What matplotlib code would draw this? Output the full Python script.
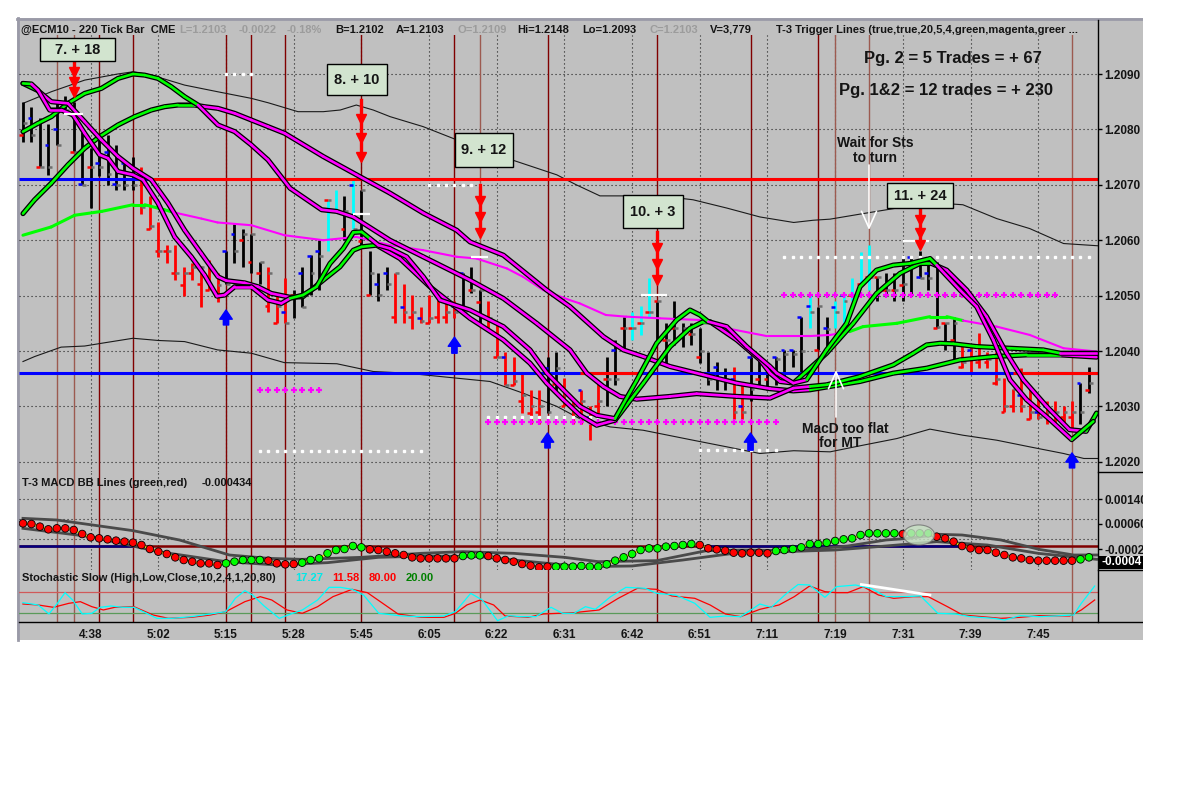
"""Recreate the @ECM10 220-tick chart: price with T-3 trigger lines, MACD dots, slow stochastic."""

import matplotlib

matplotlib.use("Agg")
import matplotlib.pyplot as plt
import numpy as np
from matplotlib.collections import LineCollection
from matplotlib.lines import Line2D
from matplotlib.patches import Ellipse, Rectangle
from matplotlib.transforms import Affine2D

plt.rcParams["font.family"] = ["Liberation Sans", "DejaVu Sans"]
plt.rcParams["font.weight"] = "bold"

# ---------------------------------------------------------------- data
time_ticks = [8, 16, 24, 32, 40, 48, 56, 64, 72, 80, 88, 96, 104, 112, 120]
time_labels = ["4:38", "5:02", "5:15", "5:28", "5:45", "6:05", "6:22", "6:31",
               "6:42", "6:51", "7:11", "7:19", "7:31", "7:39", "7:45"]
price_ticks = [1.2020, 1.2030, 1.2040, 1.2050, 1.2060, 1.2070, 1.2080, 1.2090]

bar_high = [
    1.20850, 1.20841, 1.20820, 1.20810, 1.20853, 1.20860, 1.20850, 1.20796, 1.20766, 1.20781,
    1.20790, 1.20772, 1.20739, 1.20750, 1.20732, 1.20679, 1.20632, 1.20591, 1.20591, 1.20551,
    1.20559, 1.20553, 1.20564, 1.20540, 1.20581, 1.20629, 1.20620, 1.20611, 1.20561, 1.20551,
    1.20499, 1.20531, 1.20511, 1.20552, 1.20573, 1.20600, 1.20673, 1.20691, 1.20680, 1.20709,
    1.20691, 1.20581, 1.20541, 1.20551, 1.20541, 1.20521, 1.20501, 1.20480, 1.20501, 1.20492,
    1.20491, 1.20491, 1.20541, 1.20551, 1.20510, 1.20491, 1.20450, 1.20399, 1.20390, 1.20360,
    1.20330, 1.20330, 1.20390, 1.20399, 1.20351, 1.20312, 1.20330, 1.20300, 1.20342, 1.20390,
    1.20420, 1.20461, 1.20471, 1.20481, 1.20531, 1.20491, 1.20450, 1.20491, 1.20450, 1.20450,
    1.20441, 1.20399, 1.20381, 1.20369, 1.20371, 1.20339, 1.20390, 1.20390, 1.20371, 1.20390,
    1.20401, 1.20401, 1.20462, 1.20501, 1.20480, 1.20461, 1.20491, 1.20504, 1.20531, 1.20579,
    1.20591, 1.20533, 1.20540, 1.20540, 1.20569, 1.20570, 1.20581, 1.20558, 1.20561, 1.20450,
    1.20461, 1.20411, 1.20411, 1.20432, 1.20399, 1.20399, 1.20351, 1.20331, 1.20369, 1.20331,
    1.20319, 1.20309, 1.20309, 1.20300, 1.20309, 1.20342, 1.20371,
]
bar_low = [
    1.20778, 1.20778, 1.20732, 1.20718, 1.20771, 1.20829, 1.20760, 1.20700, 1.20658, 1.20715,
    1.20700, 1.20691, 1.20691, 1.20691, 1.20648, 1.20620, 1.20569, 1.20559, 1.20529, 1.20499,
    1.20529, 1.20479, 1.20510, 1.20489, 1.20521, 1.20559, 1.20551, 1.20540, 1.20521, 1.20471,
    1.20450, 1.20450, 1.20459, 1.20480, 1.20501, 1.20510, 1.20581, 1.20652, 1.20600, 1.20621,
    1.20588, 1.20501, 1.20491, 1.20510, 1.20450, 1.20450, 1.20439, 1.20450, 1.20450, 1.20450,
    1.20450, 1.20459, 1.20471, 1.20504, 1.20450, 1.20439, 1.20390, 1.20339, 1.20339, 1.20288,
    1.20269, 1.20269, 1.20288, 1.20324, 1.20300, 1.20269, 1.20269, 1.20239, 1.20288, 1.20300,
    1.20339, 1.20402, 1.20420, 1.20429, 1.20461, 1.20420, 1.20379, 1.20411, 1.20408, 1.20411,
    1.20379, 1.20339, 1.20330, 1.20330, 1.20278, 1.20278, 1.20309, 1.20339, 1.20330, 1.20339,
    1.20349, 1.20371, 1.20360, 1.20441, 1.20401, 1.20401, 1.20441, 1.20450, 1.20491, 1.20516,
    1.20510, 1.20491, 1.20501, 1.20491, 1.20491, 1.20501, 1.20531, 1.20510, 1.20441, 1.20401,
    1.20381, 1.20369, 1.20363, 1.20369, 1.20369, 1.20339, 1.20289, 1.20289, 1.20289, 1.20278,
    1.20278, 1.20269, 1.20269, 1.20269, 1.20259, 1.20269, 1.20324,
]
bar_open = [
    1.20790, 1.20820, 1.20732, 1.20771, 1.20800, 1.20845, 1.20760, 1.20701, 1.20732, 1.20740,
    1.20760, 1.20701, 1.20739, 1.20732, 1.20720, 1.20620, 1.20581, 1.20581, 1.20541, 1.20520,
    1.20540, 1.20521, 1.20510, 1.20500, 1.20581, 1.20612, 1.20600, 1.20561, 1.20541, 1.20481,
    1.20451, 1.20470, 1.20501, 1.20541, 1.20571, 1.20581, 1.20672, 1.20652, 1.20621, 1.20700,
    1.20598, 1.20501, 1.20521, 1.20541, 1.20462, 1.20480, 1.20462, 1.20460, 1.20450, 1.20462,
    1.20462, 1.20481, 1.20541, 1.20510, 1.20489, 1.20441, 1.20390, 1.20390, 1.20339, 1.20309,
    1.20288, 1.20290, 1.20369, 1.20340, 1.20300, 1.20300, 1.20330, 1.20281, 1.20300, 1.20349,
    1.20401, 1.20441, 1.20441, 1.20451, 1.20471, 1.20490, 1.20420, 1.20441, 1.20429, 1.20430,
    1.20390, 1.20360, 1.20371, 1.20349, 1.20349, 1.20300, 1.20390, 1.20349, 1.20350, 1.20390,
    1.20401, 1.20401, 1.20461, 1.20481, 1.20401, 1.20441, 1.20480, 1.20501, 1.20501, 1.20521,
    1.20533, 1.20533, 1.20510, 1.20510, 1.20520, 1.20570, 1.20533, 1.20540, 1.20441, 1.20450,
    1.20420, 1.20371, 1.20402, 1.20380, 1.20381, 1.20342, 1.20289, 1.20300, 1.20320, 1.20278,
    1.20290, 1.20300, 1.20290, 1.20280, 1.20280, 1.20342, 1.20330,
]
bar_close = [
    1.20811, 1.20790, 1.20732, 1.20732, 1.20771, 1.20835, 1.20760, 1.20700, 1.20732, 1.20732,
    1.20720, 1.20700, 1.20700, 1.20700, 1.20660, 1.20625, 1.20581, 1.20581, 1.20541, 1.20541,
    1.20551, 1.20551, 1.20515, 1.20520, 1.20521, 1.20581, 1.20611, 1.20611, 1.20561, 1.20541,
    1.20481, 1.20451, 1.20501, 1.20480, 1.20541, 1.20571, 1.20672, 1.20652, 1.20652, 1.20621,
    1.20691, 1.20540, 1.20501, 1.20521, 1.20541, 1.20471, 1.20470, 1.20455, 1.20460, 1.20492,
    1.20470, 1.20470, 1.20471, 1.20510, 1.20510, 1.20460, 1.20390, 1.20339, 1.20345, 1.20320,
    1.20300, 1.20300, 1.20290, 1.20369, 1.20320, 1.20290, 1.20309, 1.20270, 1.20310, 1.20349,
    1.20349, 1.20441, 1.20441, 1.20451, 1.20471, 1.20490, 1.20420, 1.20441, 1.20441, 1.20431,
    1.20400, 1.20349, 1.20349, 1.20349, 1.20290, 1.20290, 1.20331, 1.20360, 1.20360, 1.20385,
    1.20395, 1.20395, 1.20400, 1.20470, 1.20481, 1.20440, 1.20470, 1.20490, 1.20501, 1.20521,
    1.20533, 1.20533, 1.20510, 1.20510, 1.20521, 1.20560, 1.20531, 1.20531, 1.20444, 1.20451,
    1.20451, 1.20380, 1.20390, 1.20390, 1.20385, 1.20350, 1.20300, 1.20331, 1.20300, 1.20290,
    1.20280, 1.20290, 1.20290, 1.20290, 1.20290, 1.20290, 1.20342,
]
# k = black bar, r = red bar, c = cyan bar
bar_kind = "".join([
    "kkkkkkkkkkkkkk", "rrrrrrrrrr", "kkkkk", "rrr", "kkkk", "cckc", "kkkk",
    "rrrrrrrr", "kkk", "rrrrrrr", "kk", "rrrrr", "kkk", "ccc", "kkkkkkkkk", "rr",
    "kkkkkkk", "c", "kk", "ccccc", "kkkkkkkkkk", "rrrrrrrrrrrrrr", "kk",
])

# T-3 trigger lines (bar index, price) and where each one is drawn green
fast_a_x = [0, 0.99, 1.77, 3.15, 4.53, 5.91, 7.29, 9.06, 10.05, 11.23, 13.0, 14.18, 15.96, 17.93,
            19.9, 21.47, 22.93, 23.84, 25.02, 26.99, 28.96, 30.54, 31.56, 33.1, 34.7, 36.29, 37.86,
            39.05, 40.03, 41.02, 42.0, 43.38, 45.35, 47.32, 49.29, 52.84, 56.78, 59.93, 61.93,
            63.87, 65.84, 67.81, 69.98, 72.54, 74.9, 77.27, 78.84, 80.02, 81.0, 83.18, 85.54, 88.3,
            89.09, 91.06, 92.63, 94.99, 97.36, 98.94, 100.9, 102.87, 104.85, 107.21, 108.0, 110.76,
            112.73, 114.7, 116.67, 118.64, 121.4, 123.96, 126.52]
fast_a_y = [1.20883, 1.20882, 1.20871, 1.20835, 1.20835, 1.20826, 1.20793, 1.20754, 1.20748,
            1.20724, 1.20718, 1.20709, 1.20667, 1.20606, 1.20570, 1.20537, 1.20499, 1.20501,
            1.20516, 1.20516, 1.20492, 1.20486, 1.20495, 1.20501, 1.20516, 1.20558, 1.20585,
            1.20614, 1.20615, 1.20603, 1.20591, 1.20585, 1.20570, 1.20534, 1.20492, 1.20474,
            1.20444, 1.20402, 1.20360, 1.20330, 1.20300, 1.20284, 1.20278, 1.20347, 1.20414,
            1.20456, 1.20474, 1.20465, 1.20453, 1.20444, 1.20408, 1.20372, 1.20360, 1.20342,
            1.20348, 1.20402, 1.20450, 1.20516, 1.20546, 1.20555, 1.20558, 1.20567, 1.20555,
            1.20510, 1.20480, 1.20420, 1.20348, 1.20312, 1.20276, 1.20240, 1.20273]
fast_a_green = [(0, 1.0), (31.5, 41.0), (70.0, 81.0), (92.6, 108.0), (124.0, 128)]

fast_b_x = [0, 1.77, 3.35, 5.32, 7.29, 9.26, 11.23, 13.0, 15.17, 17.14, 19.11, 21.08, 23.05,
            24.03, 26.2, 27.78, 29.35, 31.56, 33.1, 35.5, 37.47, 39.05, 40.03, 41.8, 44.55, 48.1,
            52.84, 56.78, 59.93, 61.9, 63.87, 65.84, 67.81, 69.98, 73.33, 76.5, 78.84, 80.42, 81.2,
            84.36, 87.12, 88.3, 89.48, 91.06, 94.99, 98.14, 100.9, 103.66, 106.03, 107.4, 109.18,
            111.55, 113.9, 116.27, 118.24, 121.0, 123.7, 125.67, 126.9]
fast_b_y = [1.20883, 1.20870, 1.20850, 1.20847, 1.20814, 1.20781, 1.20751, 1.20730, 1.20709,
            1.20667, 1.20618, 1.20576, 1.20534, 1.20527, 1.20523, 1.20516, 1.20504, 1.20497,
            1.20498, 1.20528, 1.20552, 1.20582, 1.20588, 1.20591, 1.20567, 1.20516, 1.20459,
            1.20420, 1.20378, 1.20342, 1.20312, 1.20284, 1.20266, 1.20275, 1.20342, 1.20408,
            1.20441, 1.20453, 1.20453, 1.20420, 1.20384, 1.20360, 1.20345, 1.20342, 1.20396,
            1.20450, 1.20504, 1.20540, 1.20558, 1.20558, 1.20546, 1.20510, 1.20462, 1.20396,
            1.20348, 1.20300, 1.20258, 1.20255, 1.20288]
fast_b_green = [(0, 1.0), (31.5, 41.8), (70.0, 81.2), (91.1, 107.4), (125.7, 128)]

slow1_x = [0, 1.77, 3.35, 5.32, 7.29, 9.26, 11.23, 13.0, 14.38, 15.96, 17.53, 19.11, 20.69, 23.05,
           25.02, 26.99, 28.96, 31.56, 35.3, 37.08, 39.05, 43.38, 47.32, 52.84, 56.78, 60.72,
           64.66, 66.63, 68.6, 70.57, 72.54, 76.48, 79.63, 84.36, 88.3, 91.06, 93.03, 95.0, 98.94,
           102.87, 105.24, 106.82, 108.39, 109.97, 112.73, 116.67, 120.6, 122.6, 126.9]
slow1_y = [1.20796, 1.20811, 1.20823, 1.20847, 1.20865, 1.20874, 1.20892, 1.20900, 1.20898,
           1.20892, 1.20877, 1.20859, 1.20844, 1.20808, 1.20796, 1.20772, 1.20745, 1.20694,
           1.20655, 1.20652, 1.20642, 1.20600, 1.20570, 1.20528, 1.20495, 1.20450, 1.20402,
           1.20360, 1.20336, 1.20318, 1.20313, 1.20318, 1.20323, 1.20318, 1.20315, 1.20333,
           1.20336, 1.20339, 1.20354, 1.20375, 1.20396, 1.20411, 1.20414, 1.20413, 1.20408,
           1.20405, 1.20402, 1.20396, 1.20396]
slow1_green = [(0, 20.7), (93.0, 122.6)]

slow2_x = [0, 1.38, 3.35, 5.32, 7.29, 9.06, 11.23, 13.2, 15.17, 16.75, 18.32, 20.29, 21.47, 23.05,
           25.02, 26.99, 28.96, 30.93, 35.5, 39.44, 43.38, 47.32, 51.26, 52.84, 56.78, 61.9, 64.66,
           68.6, 70.97, 73.33, 76.48, 80.42, 84.36, 88.3, 91.06, 93.03, 98.94, 102.87, 106.82,
           110.76, 114.7, 118.64, 122.6, 126.9]
slow2_y = [1.20648, 1.20673, 1.20703, 1.20736, 1.20766, 1.20787, 1.20808, 1.20823, 1.20835,
           1.20841, 1.20844, 1.20844, 1.20841, 1.20838, 1.20829, 1.20817, 1.20805, 1.20793,
           1.20751, 1.20718, 1.20685, 1.20649, 1.20618, 1.20597, 1.20573, 1.20510, 1.20480,
           1.20426, 1.20402, 1.20390, 1.20372, 1.20357, 1.20342, 1.20332, 1.20328, 1.20330,
           1.20345, 1.20360, 1.20369, 1.20384, 1.20390, 1.20393, 1.20393, 1.20389]
slow2_green = [(0, 20.3), (93.0, 122.6)]

ma_x = [0, 3.35, 6.1, 9.3, 13.0, 14.4, 16.7, 17.9, 21.1, 23.0, 27.0, 30.9, 35.5, 39.4, 43.4, 47.3,
        51.3, 53.6, 57.2, 59.1, 61.5, 64.6, 65.8, 68.9, 71.3, 75.3, 80.0, 83.2, 87.9, 93.0, 95.4,
        97.7, 99.3, 103.3, 107.2, 109.2, 111.1, 115.1, 119.0, 123.0, 127.0]
ma_y = [1.20609, 1.20624, 1.20645, 1.20652, 1.20664, 1.20664, 1.20655, 1.20650, 1.20639, 1.20632,
        1.20627, 1.20609, 1.20600, 1.20606, 1.20591, 1.20582, 1.20570, 1.20567, 1.20549, 1.20534,
        1.20510, 1.20492, 1.20486, 1.20465, 1.20462, 1.20459, 1.20456, 1.20441, 1.20427, 1.20427,
        1.20429, 1.20435, 1.20444, 1.20450, 1.20462, 1.20462, 1.20455, 1.20444, 1.20429, 1.20405,
        1.20399]
ma_green = [(0, 17.9), (97.7, 111.1)]

band_up_x = [0, 3.35, 7.3, 11.2, 13.0, 15.2, 19.1, 23.0, 27.0, 29.0, 32.5, 35.5, 37.5, 39.4, 41.4,
             43.4, 47.3, 51.3, 57.2, 63.1, 65.4, 68.2, 75.3, 79.2, 83.2, 87.1, 91.1, 93.4, 95.4,
             99.3, 103.3, 107.2, 111.1, 115.1, 119.0, 123.0, 127.0]
band_up = [1.20847, 1.20868, 1.20889, 1.20900, 1.20904, 1.20898, 1.20880, 1.20868, 1.20856,
           1.20848, 1.20832, 1.20832, 1.20835, 1.20844, 1.20835, 1.20823, 1.20805, 1.20781,
           1.20748, 1.20718, 1.20700, 1.20680, 1.20680, 1.20673, 1.20658, 1.20642, 1.20632,
           1.20636, 1.20638, 1.20648, 1.20658, 1.20668, 1.20664, 1.20639, 1.20621, 1.20594,
           1.20590]
band_lo_x = [0, 1.38, 4.5, 7.3, 9.3, 13.0, 16.0, 19.1, 23.0, 27.0, 30.9, 37.1, 41.4, 45.4, 49.3,
             55.2, 59.1, 63.1, 65.8, 69.4, 73.3, 79.2, 83.2, 87.1, 91.1, 95.4, 99.3, 103.3, 107.2,
             111.1, 115.1, 119.0, 123.0, 125.4, 127.0]
band_lo = [1.20381, 1.20390, 1.20407, 1.20409, 1.20414, 1.20423, 1.20419, 1.20417, 1.20402,
           1.20396, 1.20379, 1.20377, 1.20363, 1.20360, 1.20354, 1.20345, 1.20324, 1.20300,
           1.20278, 1.20263, 1.20257, 1.20239, 1.20227, 1.20215, 1.20220, 1.20218, 1.20230,
           1.20242, 1.20259, 1.20248, 1.20239, 1.20227, 1.20215, 1.20206, 1.20206]

# horizontal levels
level_red = 1.20711
level_red_blue_until = 15.0
level_blue = 1.20361
level_blue_red_spans = [(65.8, 72.7), (117.0, 127.1)]

# event lines, signal arrows, trade markers
event_dark = [9, 13, 24, 27, 31, 40, 51, 62, 75, 86, 94]
event_light = [4, 6, 54, 96, 100, 124]
signal_bars = [24, 51, 62, 86, 124]
signal_tip = [1.20474, 1.20425, 1.20252, 1.20252, 1.20216]
signal_tail = [1.20447, 1.20396, 1.20225, 1.20221, 1.20189]
trade_labels = ["7. + 18", "8. + 10", "9. + 12", "10. + 3", "11. + 24"]
trade_bars = [6, 40, 54, 75, 106]
trade_top = [1.20922, 1.20853, 1.20700, 1.20615, 1.20658]
trade_bottom = [1.20868, 1.20750, 1.20613, 1.20528, 1.20591]
stop_x0 = [4.9, 39, 53, 73.1, 104]
stop_x1 = [7.1, 41, 55, 76.1, 107.1]
stop_price = [1.20827, 1.20647, 1.20570, 1.20501, 1.20599]
white_dot_runs = [(24, 27, 1.20900), (48, 54, 1.20700), (28, 47, 1.20220),
                  (55, 70, 1.20281), (80, 89, 1.20221), (90, 126, 1.20570)]
plus_runs = [(28, 35, 1.20330), (55, 89, 1.20271), (90, 122, 1.20501)]

# MACD (x 1e-4), one dot per bar; g = green dot, r = red dot
macd = [
    6.21, 6.00, 5.15, 4.29, 4.61, 4.61, 4.08, 2.80, 1.73, 1.41,
    1.09, 0.67, 0.35, 0.03, -0.72, -2.00, -2.85, -3.60, -4.67, -5.52,
    -6.05, -6.59, -6.59, -7.12, -6.59, -6.05, -5.52, -5.52, -5.52, -5.73,
    -6.59, -6.91, -6.80, -6.37, -5.52, -4.99, -3.39, -2.32, -2.00, -1.04,
    -1.47, -2.11, -2.32, -2.85, -3.39, -3.92, -4.67, -4.99, -4.99, -4.99,
    -4.99, -4.99, -4.24, -4.03, -4.03, -4.24, -4.99, -5.52, -6.05, -6.80,
    -7.33, -7.87, -7.65, -7.65, -7.65, -7.65, -7.44, -7.65, -7.65, -6.91,
    -5.73, -4.67, -3.60, -2.32, -1.79, -1.79, -1.25, -1.04, -0.72, -0.40,
    -0.72, -1.79, -2.11, -2.53, -3.17, -3.39, -3.17, -3.17, -3.39, -2.64,
    -2.32, -2.00, -1.47, -0.40, -0.40, 0.03, 0.56, 1.09, 1.41, 2.48,
    3.01, 3.01, 3.01, 3.01, 2.80, 3.01, 3.01, 3.01, 1.95, 1.41,
    0.35, -1.04, -1.79, -2.32, -2.32, -3.17, -3.92, -4.67, -4.99, -5.52,
    -5.73, -5.73, -5.73, -5.73, -5.73, -5.31, -4.67,
]
macd_kind = "".join([
    "r" * 24, "g" * 5, "r" * 4, "g" * 8, "r" * 11, "g" * 3, "r" * 8, "g" * 17,
    "r" * 9, "g" * 15, "r", "g" * 3, "r" * 17, "g" * 2,
])
macd_bb1_x = [0, 4, 13, 18.5, 24.4, 29, 33, 40, 47, 52, 58, 64, 68, 74.9, 80.8, 85.3, 91.2, 97.5,
              102, 104.7, 108.4, 111, 115.6, 120.1, 124.2, 126.9]
macd_bb1 = [7.81, 7.28, 3.87, 0.88, -3.92, -4.99, -5.31, -4.67, -3.39, -2.85, -3.39, -4.67, -6.05,
            -5.73, -2.53, -2.32, -2.53, -1.04, 0.88, 1.41, 2.69, 2.48, 0.88, -2.11, -3.92, -3.92]
macd_bb2_x = [0, 8, 16, 24, 30, 36, 42, 48, 54, 60, 66, 72, 78, 84, 90, 96, 102, 108, 114, 120,
              126.9]
macd_bb2 = [4.61, 1.95, -2.85, -6.05, -7.12, -6.37, -4.67, -4.24, -4.45, -6.05, -7.65, -7.44,
            -5.52, -3.39, -2.85, -2.32, -1.04, 0.35, -0.72, -3.39, -5.31]
macd_zero = -1.04
macd_zero_blue = [(-0.5, 13.0), (80.7, 110.9)]

# slow stochastic
stoch_k_x = [0.0, 1.8, 3.07, 4.07, 4.97, 5.87, 7.01, 8.14, 9.13, 10.4, 11.76, 13.11, 14.47, 15.83,
             17.64, 19.9, 22.16, 23.97, 25.1, 26.23, 27.14, 28.5, 30.3, 31.66, 33.02, 34.83,
             36.18, 37.54, 38.9, 40.25, 42.06, 44.78, 47.04, 49.75, 51.11, 52.92, 54.28, 56.09,
             57.44, 58.8, 60.61, 62.42, 63.78, 65.13, 66.49, 67.65, 69.46, 71.27, 73.53, 74.89,
             77.15, 79.41, 81.22, 83.03, 84.84, 85.74, 87.1, 88.46, 90.27, 91.62, 92.98, 94.79,
             96.15, 98.41, 100.22, 102.03, 104.29, 106.1, 108.14, 110.17, 111.98, 114.69, 116.05,
             117.86, 120.12, 121.93, 124.19, 125.1, 126.68]
stoch_k = [49.5, 43.1, 18.1, 47.7, 77.3, 57.0, 18.1, 19.9, 36.6, 40.3, 36.6, 36.6, 21.8, 6.0,
           6.0, 10.6, 18.1, 24.5, 61.6, 82.9, 70.8, 40.3, 6.0, 18.1, 29.2, 57.0, 92.1, 92.1, 86.6,
           70.8, 19.9, 12.5, 10.6, 12.5, 24.5, 75.5, 57.0, -0.5, 13.4, 10.6, 10.6, 36.6, 19.9,
           19.9, 38.4, 31.0, 66.2, 92.1, 89.4, 75.5, 70.8, 47.7, 8.8, 12.5, 10.6, 24.5, 45.8,
           36.6, 75.5, 100.0, 98.6, 64.4, 94.0, 98.6, 89.4, 66.2, 66.2, 68.1, 19.9, 18.1, 10.6,
           6.0, 1.4, 13.4, 10.6, 12.5, 15.3, 47.7, 95.8]
stoch_d_x = [0.0, 1.8, 3.61, 5.42, 6.78, 8.14, 9.5, 10.85, 13.11, 15.38, 17.19, 19.9, 22.16,
             23.97, 26.23, 28.04, 29.4, 31.21, 33.02, 34.83, 36.64, 38.9, 40.71, 42.52, 44.33,
             47.04, 49.75, 51.11, 52.47, 54.05, 55.64, 56.99, 59.7, 61.51, 63.32, 65.13, 68.1,
             70.36, 72.63, 74.89, 76.7, 79.41, 81.22, 83.03, 84.84, 87.1, 89.36, 91.17, 92.98,
             94.79, 96.15, 97.5, 99.31, 101.12, 102.93, 105.19, 107.0, 109.27, 111.08, 113.34,
             115.6, 117.86, 120.12, 123.74, 125.1, 126.68]
stoch_d = [45.8, 43.1, 36.6, 47.7, 52.3, 38.4, 29.2, 36.6, 38.4, 15.3, 6.0, 8.8, 15.3, 24.5,
           52.3, 66.2, 57.0, 29.2, 19.9, 38.4, 66.2, 86.6, 77.3, 47.7, 18.1, 8.8, 8.8, 19.9, 43.1,
           57.0, 43.1, 12.5, 8.8, 18.1, 19.9, 21.8, 29.2, 61.6, 89.4, 86.6, 68.1, 61.6, 43.1,
           18.1, 10.6, 31.0, 43.1, 66.2, 95.8, 80.1, 77.3, 77.3, 94.0, 70.8, 61.6, 66.2, 66.2,
           38.4, 15.3, 10.6, 6.0, 8.8, 13.4, 12.5, 29.2, 57.0]

n_bars = len(bar_high)
assert n_bars == len(bar_low) == len(bar_open) == len(bar_close) == len(bar_kind) == 127
assert len(macd) == len(macd_kind) == n_bars

# ---------------------------------------------------------------- layout
W, H = 1180, 788
BG = "#c0c0c0"
INK = "#141414"
GREEN, MAGENTA = "#00ff00", "#ff00ff"

fig = plt.figure(figsize=(W / 100, H / 100), dpi=100)
pix = Affine2D().scale(1 / W, -1 / H).translate(0, 1) + fig.transFigure

fig.add_artist(Rectangle((17, 18), 1126, 622, transform=pix, facecolor=BG,
                         edgecolor="none", zorder=-5))
fig.add_artist(Line2D([17, 1143], [19, 19], transform=pix, color="#9a9aa8", lw=2, zorder=-4))
fig.add_artist(Line2D([18, 18], [18, 640], transform=pix, color="#9a9aa8", lw=2, zorder=-4))


def panel(top, bottom, ylim):
    ax = fig.add_axes([19 / W, 1 - bottom / H, 1079 / W, (bottom - top) / H])
    ax.set_facecolor("none")
    for s in ax.spines.values():
        s.set_visible(False)
    ax.set_xlim(-0.47, 127.07)
    ax.set_ylim(*ylim)
    ax.set_xticks(time_ticks)
    ax.tick_params(left=False, bottom=False, labelleft=False, labelbottom=False)
    ax.set_axisbelow(True)
    for b in event_dark:
        ax.axvline(b, color="#800000", lw=1.0, zorder=1)
    for b in event_light:
        ax.axvline(b, color="#9c5a50", lw=1.0, zorder=1)
    return ax


dotted = dict(color="#1e1e1e", lw=0.8, ls=(0, (1, 2.6)))
ax_p = panel(35, 472, (1.201816, 1.209704))
ax_m = panel(472, 570, (-8.72, 22.64))
ax_s = panel(570, 622, (-4.2, 140.3))


def colored(xs, ys, spans, on, off, lw_on, lw_off, z):
    pts = np.column_stack([xs, ys])
    segs = np.stack([pts[:-1], pts[1:]], axis=1)
    mid = (pts[:-1, 0] + pts[1:, 0]) / 2
    mask = np.zeros(len(mid), dtype=bool)
    for a, b in spans:
        mask |= (mid >= a) & (mid <= b)
    return LineCollection(segs, colors=[on if m else off for m in mask],
                          linewidths=[lw_on if m else lw_off for m in mask],
                          capstyle="round", zorder=z)


# ---------------------------------------------------------------- price panel
ax_p.grid(True, **dotted)
ax_p.yaxis.tick_right()
ax_p.set_yticks(price_ticks, labels=[f"{p:.4f}" for p in price_ticks])
ax_p.tick_params(axis="y", right=True, labelright=True, length=3, width=1, pad=1.5,
                 labelsize=8.5, labelcolor=INK)

ax_p.plot(band_up_x, band_up, color="#1a1a1a", lw=0.8, zorder=2)
ax_p.plot(band_lo_x, band_lo, color="#1a1a1a", lw=0.8, zorder=2)

xb = np.arange(n_bars)
kind_color = {"k": "#000000", "r": "#ff0000", "c": "#00ffff"}
ax_p.vlines(xb, bar_low, bar_high, colors=[kind_color[k] for k in bar_kind], lw=2.0, zorder=3)
o, c = np.array(bar_open), np.array(bar_close)
ax_p.hlines(o, xb - 0.45, xb, colors=np.where(o > c, "#0000ff", "#ff0000"), lw=1.8, zorder=3)
ax_p.hlines(c, xb, xb + 0.45, colors="#6e6e6e", lw=1.8, zorder=3)

# horizontal levels
ax_p.hlines(level_red, -0.47, level_red_blue_until, color="#0000ff", lw=2.2, zorder=4)
ax_p.hlines(level_red, level_red_blue_until, 127.07, color="#ff0000", lw=2.2, zorder=4)
ax_p.hlines(level_blue, -0.47, 127.07, color="#0000ff", lw=2.2, zorder=4)
for a, b in level_blue_red_spans:
    ax_p.hlines(level_blue, a, b, color="#ff0000", lw=2.2, zorder=4)

# white dotted / magenta plus guide rows
for a, b, p in white_dot_runs:
    xs = np.arange(a, b + 1)
    ax_p.plot(xs, np.full(len(xs), p), ls="none", marker="s", ms=1.8, color="white", zorder=4)
for a, b, p in plus_runs:
    xs = np.arange(a, b + 1)
    ax_p.plot(xs, np.full(len(xs), p), ls="none", marker="+", ms=5, mew=1.6, color=MAGENTA,
              zorder=4)

# moving average (magenta / light green)
ax_p.add_collection(colored(ma_x, ma_y, ma_green, GREEN, MAGENTA, 2.2, 1.5, 5))

# trigger lines with black outline
for i, (xs, ys, spans) in enumerate([(slow2_x, slow2_y, slow2_green),
                                     (slow1_x, slow1_y, slow1_green),
                                     (fast_b_x, fast_b_y, fast_b_green),
                                     (fast_a_x, fast_a_y, fast_a_green)]):
    z = 6 + 2 * i
    ax_p.plot(xs, ys, color="black", lw=3.7, solid_capstyle="round", zorder=z)
    ax_p.add_collection(colored(xs, ys, spans, GREEN, MAGENTA, 1.9, 1.9, z + 1))

# stop marks
ax_p.hlines(stop_price, stop_x0, stop_x1, color="white", lw=1.6, zorder=15)

# blue signal arrows
for b, tip, tail in zip(signal_bars, signal_tip, signal_tail):
    ax_p.annotate("", xy=(b, tip), xytext=(b, tail), zorder=16,
                  arrowprops=dict(arrowstyle="simple,head_length=0.55,head_width=0.75,"
                                  "tail_width=0.32", fc="#0000ff", ec="#0000ff",
                                  mutation_scale=12, shrinkA=0, shrinkB=0))

# red trade arrows
for b, top, bot in zip(trade_bars, trade_top, trade_bottom):
    ax_p.plot([b, b], [top, bot], color="#ff0000", lw=2.4, zorder=16)
    heads = np.linspace(bot, top, 4)[:3]
    ax_p.plot(np.full(3, b), heads, ls="none", marker="v", ms=7, color="#ff0000",
              mec="#ff0000", zorder=16)

# ---------------------------------------------------------------- MACD panel
ax_m.grid(True, axis="x", **dotted)
for g in (14.0, 7.6, 1.2):
    ax_m.axhline(g, **dotted, zorder=0)
ax_m.yaxis.tick_right()
ax_m.set_yticks([14.0, 6.0, -2.0], labels=["0.00140", "0.00060", "-0.0002"])
ax_m.tick_params(axis="y", right=True, labelright=True, length=3, width=1, pad=1.5,
                 labelsize=8.5, labelcolor=INK)
ax_m.hlines(macd_zero, -0.47, 127.07, color="#800000", lw=1.8, zorder=2)
for a, b in macd_zero_blue:
    ax_m.hlines(macd_zero, a, b, color="#000080", lw=1.8, zorder=2)
ax_m.plot(macd_bb1_x, macd_bb1, color="#4a4a4a", lw=2.0, zorder=3)
ax_m.plot(macd_bb2_x, macd_bb2, color="#4a4a4a", lw=2.0, zorder=3)
ax_m.plot(xb, macd, color="#ffff00", lw=1.4, zorder=4)
ax_m.scatter(xb, macd, s=30, c=["#00ff00" if k == "g" else "#ff0000" for k in macd_kind],
             edgecolors="black", linewidths=0.6, zorder=5)
ax_m.add_patch(Ellipse((105.9, 2.5), 3.7, 6.4, facecolor="#c8e2c4", edgecolor="#707070",
                       lw=0.8, alpha=0.8, zorder=6))

# ---------------------------------------------------------------- stochastic panel
ax_s.axhline(80, color="#d05a5a", lw=0.9, zorder=1)
ax_s.axhline(20, color="#5a9a5a", lw=0.9, zorder=1)
ax_s.plot(stoch_d_x, stoch_d, color="#ff0000", lw=0.9, zorder=3)
ax_s.plot(stoch_k_x, stoch_k, color="#00ffff", lw=0.9, zorder=3)
ax_s.plot([99.1, 107.2], [100.0, 70.8], color="white", lw=2.0, zorder=4)
ax_s.set_xticks(time_ticks, labels=time_labels)
ax_s.tick_params(axis="x", labelbottom=True, length=0, pad=5, labelsize=8.5, labelcolor=INK)

# ---------------------------------------------------------------- frame lines
for xs, ys in [([1098, 1098], [20, 622]), ([19, 1143], [622, 622]),
               ([1098, 1143], [472, 472]), ([1098, 1143], [570, 570])]:
    fig.add_artist(Line2D(xs, ys, transform=pix, color="black", lw=1.0, zorder=3))


def ptext(x, y, s, size=8, color=INK, ha="left", z=12):
    fig.text(x, y, s, transform=pix, fontsize=size, color=color, ha=ha, va="center",
             fontweight="bold", zorder=z)


# header
GRAY = "#9c9c9c"
for s, x, col in [("@ECM10 - 220 Tick Bar  CME", 21, INK), ("L=1.2103", 179, GRAY),
                  ("-0.0022", 239, GRAY), ("-0.18%", 287, GRAY), ("B=1.2102", 335, INK),
                  ("A=1.2103", 396, INK), ("O=1.2109", 457, GRAY), ("Hi=1.2148", 517, INK),
                  ("Lo=1.2093", 582, INK), ("C=1.2103", 649, GRAY), ("V=3,779", 710, INK),
                  ("T-3 Trigger Lines (true,true,20,5,4,green,magenta,greer ...", 776, INK)]:
    ptext(x, 30, s, color=col)

ptext(22, 483, "T-3 MACD BB Lines (green,red)")
ptext(202, 483, "-0.000434")
ptext(22, 578, "Stochastic Slow (High,Low,Close,10,2,4,1,20,80)")
for s, x, col in [("17.27", 295, "#00e8e8"), ("11.58", 332, "#ff0000"),
                  ("80.00", 369, "#ff0000"), ("20.00", 406, "#008000")]:
    ptext(x, 578, s, color=col)

# trade boxes
for label, (x, y, w, h) in zip(trade_labels, [(40, 38, 75, 23), (327, 64, 60, 31),
                                              (455, 133, 58, 34), (623, 195, 60, 33),
                                              (887, 183, 66, 25)]):
    fig.add_artist(Rectangle((x, y), w, h, transform=pix, facecolor="#d2e4cf",
                             edgecolor="black", lw=1.0, zorder=11))
    ptext(x + w / 2, y + h / 2, label, size=10.5, ha="center")

ptext(953, 58, "Pg. 2 = 5 Trades = + 67", size=12, ha="center")
ptext(946, 90, "Pg. 1&2 = 12 trades = + 230", size=12, ha="center")
ptext(875, 143, "Wait for Sts", size=10, ha="center")
ptext(875, 158, "to turn", size=10, ha="center")
ptext(845, 429, "MacD too flat", size=10, ha="center")
ptext(840, 443, "for MT", size=10, ha="center")

for tip, tail in [((869, 230), (869, 165)), ((836, 370), (836, 417))]:
    ax_p.annotate("", xy=tip, xytext=tail, xycoords=pix, textcoords=pix, zorder=17,
                  arrowprops=dict(arrowstyle="->,head_length=1.0,head_width=0.45",
                                  color="white", lw=1.2, mutation_scale=12,
                                  shrinkA=0, shrinkB=0))

# current MACD value flag and clipping of the right margin
fig.add_artist(Rectangle((1099, 556), 44, 13, transform=pix, facecolor="black",
                         edgecolor="none", zorder=13))
ptext(1101, 562.5, "-0.0004", size=8.5, color="white", z=14)
fig.add_artist(Rectangle((1143, 0), 40, 788, transform=pix, facecolor="white",
                         edgecolor="none", zorder=20))

fig.savefig("out.png", dpi=100, facecolor="white")
